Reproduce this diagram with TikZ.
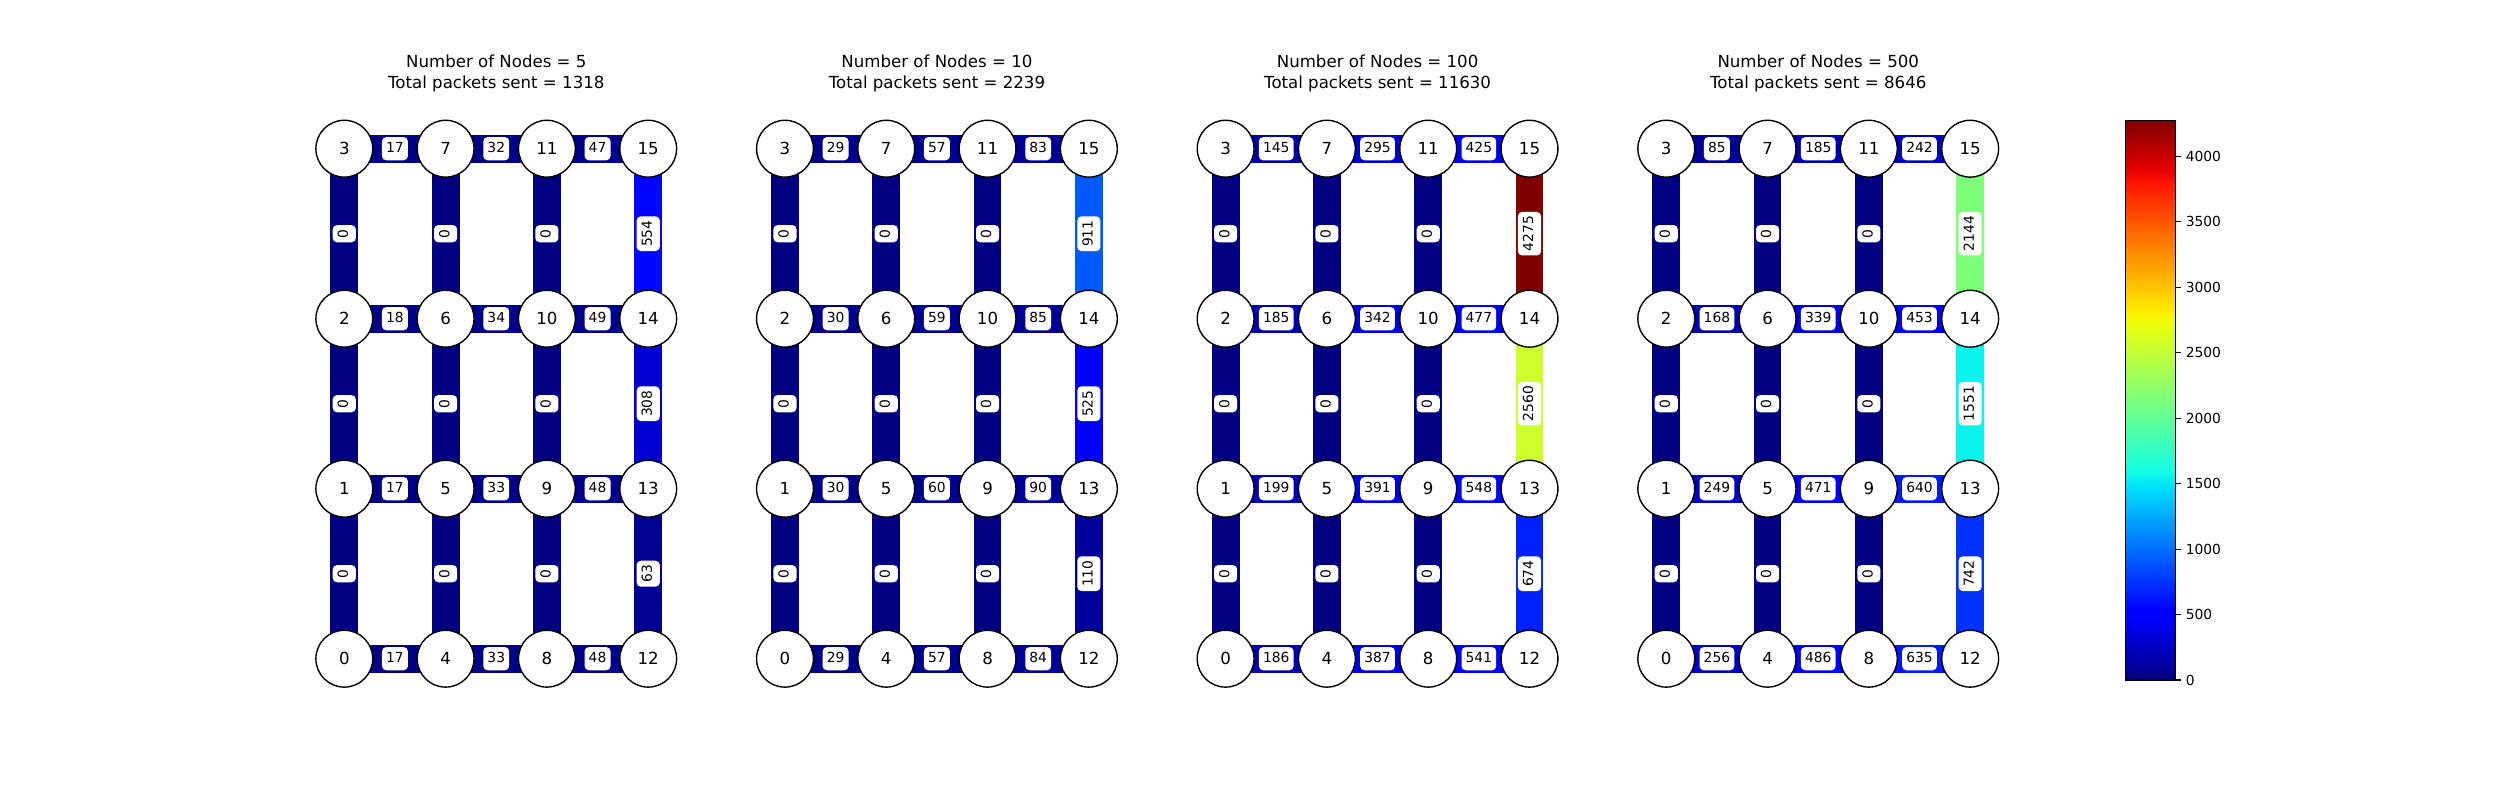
\documentclass[tikz,border=0pt]{standalone}
\usepackage{fontspec}
\setmainfont{DejaVu Sans}
\usetikzlibrary{backgrounds}

% jet colour map, 0 at the bottom, 4275 at the top
\pgfdeclareverticalshading{jetbar}{100bp}{rgb(0bp)=(0,0,0.5); rgb(25bp)=(0,0,0.5);
  rgb(30.5bp)=(0,0,1); rgb(31.25bp)=(0,0,1); rgb(42bp)=(0,0.86,1);
  rgb(42.5bp)=(0,0.9,0.9677); rgb(43.75bp)=(0.0806,1,0.8871);
  rgb(57bp)=(0.9355,1,0.0323); rgb(57.5bp)=(0.9677,0.963,0);
  rgb(58bp)=(1,0.9259,0); rgb(69.5bp)=(1,0.0741,0); rgb(70.5bp)=(0.9091,0,0);
  rgb(75bp)=(0.5,0,0); rgb(100bp)=(0.5,0,0)}

\newcommand\setjet[1]{%
  \pgfmathsetmacro\jt{min(1,#1/4275)}%
  \pgfmathsetmacro\jr{\jt<0.89 ? max(0,min(1,(\jt-0.35)/0.31)) : 1-0.5*(\jt-0.89)/0.11}%
  \pgfmathsetmacro\jg{max(0,min(1,(\jt-0.125)/0.25,(0.91-\jt)/0.27))}%
  \pgfmathsetmacro\jb{\jt<0.11 ? 0.5+0.5*\jt/0.11 : max(0,min(1,(0.65-\jt)/0.31))}%
  \definecolor{jet}{rgb}{\jr,\jg,\jb}}

\tikzset{
  router/.style={circle, draw, fill=white, line width=1bp, minimum size=0.568in,
    inner sep=0pt, font=\fontsize{12}{14}\selectfont},
  load/.style={fill=white, text=black, rounded corners=3pt, inner sep=3pt, text height=8pt,
    text depth=2.7pt, font=\fontsize{10}{12}\selectfont},
  link/.style={line width=20bp},
  headline/.style={align=center, inner sep=0pt, font=\fontsize{12}{15.2}\selectfont},
  ticklabel/.style={anchor=base west, inner sep=0pt, font=\fontsize{10}{12}\selectfont}
}

% one mesh: #1 panel, #2 nodes, #3 packets, #4 loads of rows 0..3, #5 loads up column 3
\newcommand\meshpanel[5]{%
  \pgfmathsetmacro\px{344.3+440.65*#1}
  \foreach \i in {0,...,3} \foreach \j in {0,...,3} {
    \pgfmathtruncatemacro\k{4*\i+\j}
    \node[router] (n#1-\k) at (\px+101.3*\i,658.7-170*\j) {\k};
  }
  \node[headline] (title#1) at (\px+152,73.4) {Number of Nodes = #2\\Total packets sent = #3};
  \begin{scope}[on background layer]
    \foreach \hv [count=\j from 0] in {#4} \foreach \v [count=\i from 0] in \hv {
      \pgfmathtruncatemacro\a{4*\i+\j}
      \pgfmathtruncatemacro\b{\a+4}
      \setjet{\v}
      \draw[link,jet] (n#1-\a.center) -- node[load,sloped] {\v} (n#1-\b.center);
    }
    \foreach \i in {0,1,2} \foreach \j in {0,1,2} {
      \pgfmathtruncatemacro\a{4*\i+\j}
      \pgfmathtruncatemacro\b{\a+1}
      \setjet{0}
      \draw[link,jet] (n#1-\a.center) -- node[load,sloped] {0} (n#1-\b.center);
    }
    \foreach \v [count=\a from 12] in {#5} {
      \pgfmathtruncatemacro\b{\a+1}
      \setjet{\v}
      \draw[link,jet] (n#1-\a.center) -- node[load,sloped] {\v} (n#1-\b.center);
    }
  \end{scope}
}

\begin{document}
\begin{tikzpicture}[x=0.01in,y=-0.01in]
\useasboundingbox (0,0) rectangle (2500,800);

\meshpanel{0}{5}{1318}{{17,33,48},{17,33,48},{18,34,49},{17,32,47}}{63,308,554}
\meshpanel{1}{10}{2239}{{29,57,84},{30,60,90},{30,59,85},{29,57,83}}{110,525,911}
\meshpanel{2}{100}{11630}{{186,387,541},{199,391,548},{185,342,477},{145,295,425}}{674,2560,4275}
\meshpanel{3}{500}{8646}{{256,486,635},{249,471,640},{168,339,453},{85,185,242}}{742,1551,2144}

% colour bar
\shadedraw[shading=jetbar, line width=0.8bp] (2125.3,120.3) rectangle (2175.7,680);
\foreach \v in {0,500,...,4000} {
  \pgfmathsetmacro\ty{680-0.13093*\v}
  \draw[line width=0.8bp] (2175.7,\ty) -- (2180.6,\ty);
  \node[ticklabel] (tick\v) at (2185.5,\ty+5.07) {\v};
}
\end{tikzpicture}
\end{document}
